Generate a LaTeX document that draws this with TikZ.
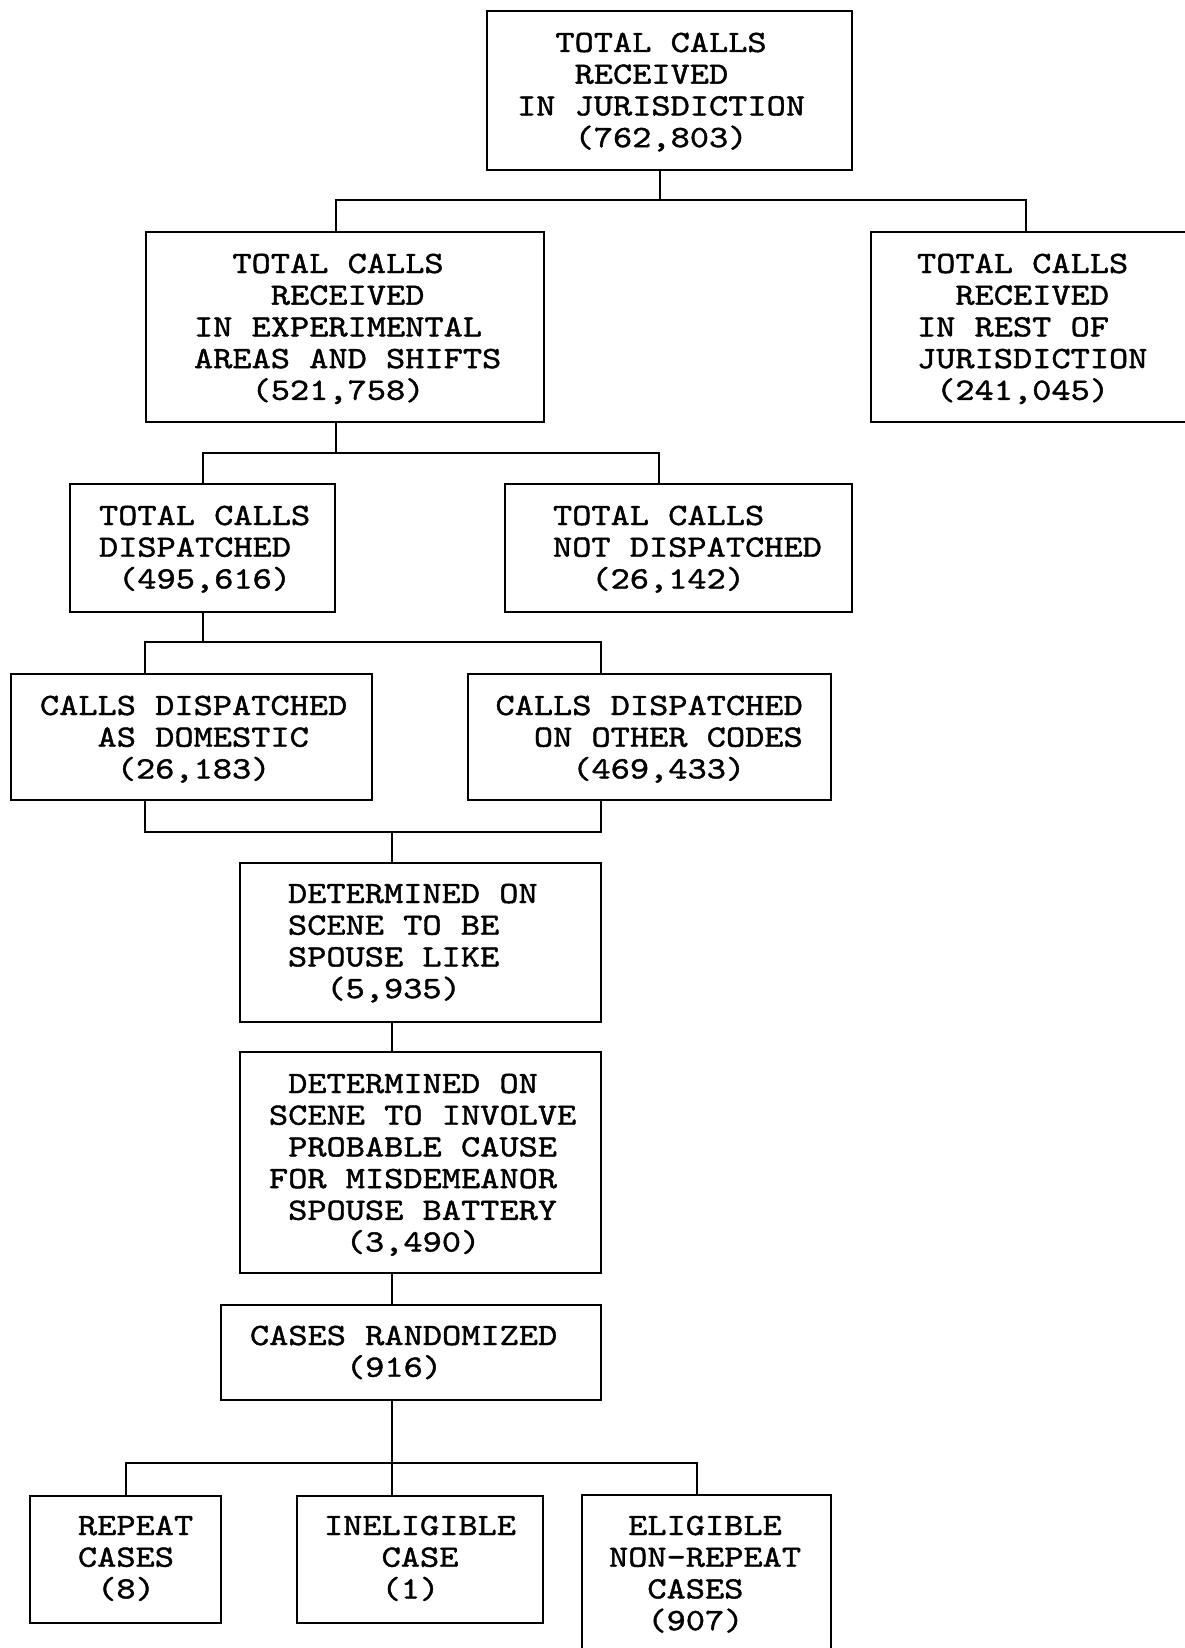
\documentclass[tikz,border=0pt]{standalone}
\usepackage{fontspec}
\usetikzlibrary{fit}
\newfontfamily\cour{lmmono10-regular.otf}[FakeStretch=1.18,FakeBold=1.3]
\newcommand\lines[1]{\vtop{\baselineskip=31.7pt\lineskiplimit=-60pt\lineskip=0pt\let\\\cr\halign{##\hfil\cr#1\crcr}}}
\tikzset{
  box/.style={draw, line width=2.4pt, inner sep=0pt, outer sep=0pt},
  lbl/.style={inner sep=0pt, outer sep=0pt, anchor=base west, font=\cour\fontsize{31}{31.7}\selectfont},
  wire/.style={line width=2pt},
}
\begin{document}
\begin{tikzpicture}[x=1pt,y=-1pt]
\useasboundingbox (0,0) rectangle (1185,1648);
\fill[white] (0,0) rectangle (1185,1648);
\clip (0,0) rectangle (1185,1648);
% boxes
\node[box, fit={(487,11) (852,170)}] (b1) {};
\node[box, fit={(146,232) (544,422)}] (b2) {};
\node[box, fit={(871,232) (1200,422)}] (b3) {};
\node[box, fit={(70,484) (335,612)}] (b4) {};
\node[box, fit={(505,484) (852,612)}] (b5) {};
\node[box, fit={(11,674) (372,800)}] (b6) {};
\node[box, fit={(468,674) (831,800)}] (b7) {};
\node[box, fit={(240,863) (601,1022)}] (b8) {};
\node[box, fit={(240,1052) (601,1273)}] (b9) {};
\node[box, fit={(221,1305) (601,1400)}] (b10) {};
\node[box, fit={(30,1496) (221,1623)}] (b11) {};
\node[box, fit={(297,1496) (543,1623)}] (b12) {};
\node[box, fit={(582,1495) (831,1665)}] (b13) {};
% labels
\node[lbl] (t1) at (517,52) {\lines{\hphantom{XX}TOTAL CALLS\\\hphantom{XXX}RECEIVED\\IN JURISDICTION\\\hphantom{XXX}(762,803)}};
\node[lbl] (t2) at (194,273) {\lines{\hphantom{XX}TOTAL CALLS\\\hphantom{XXXX}RECEIVED\\IN EXPERIMENTAL\\AREAS AND SHIFTS\\\hphantom{XXX}(521,758)}};
\node[lbl] (t3) at (917,273) {\lines{TOTAL CALLS\\\hphantom{XX}RECEIVED\\IN REST OF\\JURISDICTION\\\hphantom{X}(241,045)}};
\node[lbl] (t4) at (99,525) {\lines{TOTAL CALLS\\DISPATCHED\\\hphantom{X}(495,616)}};
\node[lbl] (t5) at (553,525) {\lines{TOTAL CALLS\\NOT DISPATCHED\\\hphantom{XX}(26,142)}};
\node[lbl] (t6) at (40,715) {\lines{CALLS DISPATCHED\\\hphantom{XXX}AS DOMESTIC\\\hphantom{XXXX}(26,183)}};
\node[lbl] (t7) at (495.5,715) {\lines{CALLS DISPATCHED\\\hphantom{XX}ON OTHER CODES\\\hphantom{XXXX}(469,433)}};
\node[lbl] (t8) at (288,903) {\lines{DETERMINED ON\\SCENE TO BE\\SPOUSE LIKE\\\hphantom{XX}(5,935)}};
\node[lbl] (t9) at (269,1093) {\lines{\hphantom{X}DETERMINED ON\\SCENE TO INVOLVE\\\hphantom{X}PROBABLE CAUSE\\FOR MISDEMEANOR\\\hphantom{X}SPOUSE BATTERY\\\hphantom{XXXX}(3,490)}};
\node[lbl] (t10) at (250,1345) {\lines{CASES RANDOMIZED\\\hphantom{XXXXX}(916)}};
\node[lbl] (t11) at (78,1535) {\lines{REPEAT\\CASES\\\hphantom{X}(8)}};
\node[lbl] (t12) at (324,1535) {\lines{INELIGIBLE\\\hphantom{XXX}CASE\\\hphantom{XXX}(1)}};
\node[lbl] (t13) at (609,1535) {\lines{\hphantom{X}ELIGIBLE\\NON-REPEAT\\\hphantom{XX}CASES\\\hphantom{XX}(907)}};
% junctions
\coordinate (j1) at (660,200); \coordinate (j1l) at (336,200); \coordinate (j1r) at (1026,200);
\coordinate (j2) at (336,453); \coordinate (j2l) at (202.5,453); \coordinate (j2r) at (659,453);
\coordinate (j3) at (202.5,642); \coordinate (j3l) at (145,642); \coordinate (j3r) at (601,642);
\coordinate (j4) at (391.5,832); \coordinate (j4l) at (145,832); \coordinate (j4r) at (601,832);
\coordinate (j5) at (391.5,1463); \coordinate (j5l) at (125.5,1463); \coordinate (j5r) at (697,1463);
% connectors
\draw[wire] (b1.south -| j1) -- (j1);
\draw[wire] (b2.north -| j1l) |- (j1r) -- (b3.north -| j1r);
\draw[wire] (b2.south -| j2) -- (j2);
\draw[wire] (b4.north -| j2l) |- (j2r) -- (b5.north -| j2r);
\draw[wire] (b4.south -| j3) -- (j3);
\draw[wire] (b6.north -| j3l) |- (j3r) -- (b7.north -| j3r);
\draw[wire] (b6.south -| j4l) |- (j4r) -- (b7.south -| j4r);
\draw[wire] (j4) -- (b8.north -| j4);
\draw[wire] (b8.south -| j4) -- (b9.north -| j4);
\draw[wire] (b9.south -| j4) -- (b10.north -| j4);
\draw[wire] (b10.south -| j5) -- (b12.north -| j5);
\draw[wire] (b11.north -| j5l) |- (j5r) -- (b13.north -| j5r);
\end{tikzpicture}
\end{document}
